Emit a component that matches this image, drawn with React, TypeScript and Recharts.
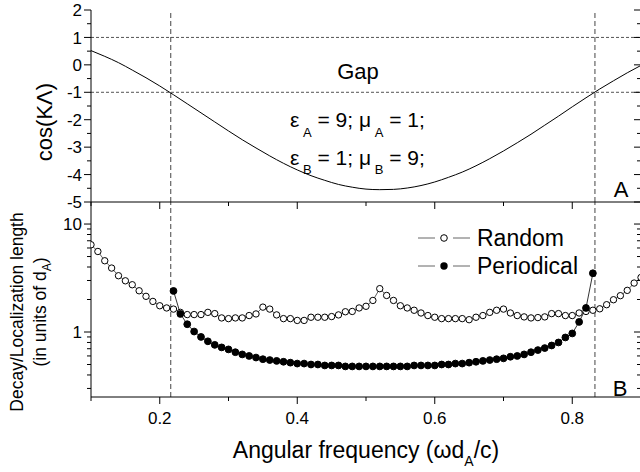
import React from "react";
import { LineChart, Line, XAxis, YAxis, ReferenceLine, Legend } from "recharts";

const FONT = "'Liberation Sans', Arial, Helvetica, sans-serif";

// top panel: cos(K Lambda) vs frequency
const curveFreq = [
  0.1, 0.12, 0.14, 0.16, 0.18, 0.2, 0.22, 0.24, 0.26, 0.28, 0.3, 0.32, 0.34, 0.36,
  0.38, 0.4, 0.42, 0.44, 0.46, 0.48, 0.5, 0.52, 0.54, 0.56, 0.58, 0.6, 0.62, 0.64,
  0.66, 0.68, 0.7, 0.72, 0.74, 0.76, 0.78, 0.8, 0.82, 0.84, 0.86, 0.88, 0.9
];
const cosKL = [
  0.52, 0.31, 0.08, -0.19, -0.47, -0.77, -1.09, -1.42, -1.75, -2.08, -2.41, -2.73, -3.03, -3.32,
  -3.59, -3.83, -4.04, -4.21, -4.36, -4.46, -4.53, -4.55, -4.54, -4.49, -4.4, -4.27, -4.1, -3.91,
  -3.68, -3.42, -3.14, -2.84, -2.53, -2.2, -1.87, -1.53, -1.2, -0.88, -0.58, -0.29, -0.02
];

// bottom panel: random stack
const randomFreq = [
  0.1, 0.11, 0.12, 0.13, 0.14, 0.15, 0.16, 0.17, 0.18, 0.19, 0.2, 0.21, 0.22, 0.23, 0.24, 0.25,
  0.26, 0.27, 0.28, 0.29, 0.3, 0.31, 0.32, 0.33, 0.34, 0.35, 0.36, 0.37, 0.38, 0.39, 0.4, 0.41,
  0.42, 0.43, 0.44, 0.45, 0.46, 0.47, 0.48, 0.49, 0.5, 0.51, 0.52, 0.53, 0.54, 0.55, 0.56, 0.57,
  0.58, 0.59, 0.6, 0.61, 0.62, 0.63, 0.64, 0.65, 0.66, 0.67, 0.68, 0.69, 0.7, 0.71, 0.72, 0.73,
  0.74, 0.75, 0.76, 0.77, 0.78, 0.79, 0.8, 0.81, 0.82, 0.83, 0.84, 0.85, 0.86, 0.87, 0.88, 0.89, 0.9
];
const randomLen = [
  6.43, 5.57, 4.57, 3.91, 3.32, 2.98, 2.74, 2.41, 2.14, 1.92, 1.75, 1.67, 1.63, 1.52, 1.45, 1.45,
  1.45, 1.52, 1.48, 1.35, 1.33, 1.35, 1.35, 1.42, 1.47, 1.7, 1.63, 1.44, 1.33, 1.33, 1.28, 1.28,
  1.37, 1.37, 1.37, 1.39, 1.44, 1.54, 1.55, 1.67, 1.73, 1.96, 2.52, 2.18, 1.96, 1.75, 1.67, 1.59,
  1.5, 1.42, 1.37, 1.33, 1.33, 1.33, 1.33, 1.3, 1.37, 1.42, 1.52, 1.59, 1.63, 1.5, 1.42, 1.38,
  1.35, 1.36, 1.38, 1.48, 1.48, 1.42, 1.42, 1.5, 1.55, 1.59, 1.64, 1.79, 1.99, 2.17, 2.43, 2.84, 3.2
];

// bottom panel: periodic stack (decay length inside the gap)
const periodicFreq = [
  0.22, 0.23, 0.24, 0.25, 0.26, 0.27, 0.28, 0.29, 0.3, 0.31, 0.32, 0.33, 0.34, 0.35, 0.36, 0.37,
  0.38, 0.39, 0.4, 0.41, 0.42, 0.43, 0.44, 0.45, 0.46, 0.47, 0.48, 0.49, 0.5, 0.51, 0.52, 0.53,
  0.54, 0.55, 0.56, 0.57, 0.58, 0.59, 0.6, 0.61, 0.62, 0.63, 0.64, 0.65, 0.66, 0.67, 0.68, 0.69,
  0.7, 0.71, 0.72, 0.73, 0.74, 0.75, 0.76, 0.77, 0.78, 0.79, 0.8, 0.81, 0.82, 0.83
];
const periodicLen = [
  2.4, 1.47, 1.18, 1.01, 0.9, 0.82, 0.76, 0.72, 0.69, 0.65, 0.62, 0.6, 0.58, 0.56, 0.55, 0.54,
  0.53, 0.52, 0.51, 0.51, 0.5, 0.5, 0.49, 0.49, 0.49, 0.48, 0.48, 0.48, 0.48, 0.48, 0.48, 0.48,
  0.48, 0.48, 0.48, 0.49, 0.49, 0.49, 0.49, 0.5, 0.5, 0.51, 0.51, 0.52, 0.53, 0.54, 0.55, 0.56,
  0.57, 0.59, 0.6, 0.62, 0.65, 0.68, 0.71, 0.75, 0.8, 0.89, 0.97, 1.24, 1.67, 3.5
];

const xTicks = [0.1, 0.2, 0.3, 0.4, 0.5, 0.6, 0.7, 0.8, 0.9];
const cosTicks = [-5, -4.5, -4, -3.5, -3, -2.5, -2, -1.5, -1, -0.5, 0, 0.5, 1, 1.5, 2];
const logTicks = [0.3, 0.4, 0.5, 0.6, 0.7, 0.8, 0.9, 1, 2, 3, 4, 5, 6, 7, 8, 9, 10];
const gapEdges = [0.216, 0.833];
const bandEdges = [1, -1];

const curveData = curveFreq.map((f, i) => ({ f, v: cosKL[i] }));
const randomData = randomFreq.map((f, i) => ({ f, v: randomLen[i] }));
const periodicData = periodicFreq.map((f, i) => ({ f, v: periodicLen[i] }));

const makeXTick = (withLabels: boolean) => (props: any) => {
  const { x, y, payload } = props;
  const major = Math.round(payload.value * 10) % 2 === 0;
  return (
    <g>
      <line x1={x} x2={x} y1={y} y2={y + (major ? 7 : 4)} stroke="#000" />
      {withLabels && major && (
        <text x={x} y={y + 27} textAnchor="middle" fontSize={17} fontFamily={FONT} fill="#000">
          {payload.value.toFixed(1)}
        </text>
      )}
    </g>
  );
};

const makeYTick = (side: "left" | "right", isMajor: (v: number) => boolean) => (props: any) => {
  const { x, y, payload } = props;
  const major = isMajor(payload.value);
  const len = major ? 7 : 4;
  if (side === "right") {
    return <line x1={x - len} x2={x} y1={y} y2={y} stroke="#000" />;
  }
  return (
    <g>
      <line x1={x - len} x2={x} y1={y} y2={y} stroke="#000" />
      {major && (
        <text x={x - 9} y={y} dy="0.36em" textAnchor="end" fontSize={17} fontFamily={FONT} fill="#000">
          {payload.value}
        </text>
      )}
    </g>
  );
};

const isInt = (v: number) => Number.isInteger(v);
const isDecade = (v: number) => v === 1 || v === 10;

const XTickLabelled = makeXTick(true);
const XTickPlain = makeXTick(false);
const CosLeftTick = makeYTick("left", isInt);
const CosRightTick = makeYTick("right", isInt);
const LogLeftTick = makeYTick("left", isDecade);
const LogRightTick = makeYTick("right", isDecade);

const renderLegend = () => (
  <svg width={190} height={56} style={{ overflow: "visible" }}>
    <g fontFamily={FONT} fontSize={23}>
      <line x1={0} x2={17} y1={13} y2={13} stroke="#666" />
      <circle cx={26} cy={13} r={3.3} fill="#fff" stroke="#000" />
      <line x1={35} x2={52} y1={13} y2={13} stroke="#666" />
      <text x={59} y={21}>Random</text>
      <line x1={0} x2={17} y1={41} y2={41} stroke="#666" />
      <circle cx={26} cy={41} r={3.7} fill="#000" />
      <line x1={35} x2={52} y1={41} y2={41} stroke="#666" />
      <text x={59} y={49}>Periodical</text>
    </g>
  </svg>
);

const axisLine = { stroke: "#000", strokeWidth: 1 };

export default function App() {
  return (
    <div
      style={{
        position: "absolute",
        left: 0,
        top: 0,
        width: 640,
        height: 472,
        overflow: "hidden",
        background: "#fff",
        fontFamily: FONT
      }}
    >
      <div style={{ position: "absolute", left: 0, top: 202 }}>
        <LineChart width={650} height={270} margin={{ top: 0, right: 0, left: 0, bottom: 0 }}>
          <XAxis
            xAxisId="b"
            dataKey="f"
            type="number"
            domain={[0.1, 0.9]}
            ticks={xTicks}
            interval={0}
            allowDataOverflow
            height={75}
            tickSize={0}
            tickMargin={0}
            tickLine={false}
            axisLine={axisLine}
            tick={XTickLabelled}
          />
          <YAxis
            yAxisId="l"
            type="number"
            scale="log"
            domain={[0.25, 16]}
            ticks={logTicks}
            interval={0}
            allowDataOverflow
            width={91}
            tickSize={0}
            tickMargin={0}
            tickLine={false}
            axisLine={axisLine}
            tick={LogLeftTick}
          />
          <YAxis
            yAxisId="r"
            orientation="right"
            type="number"
            scale="log"
            domain={[0.25, 16]}
            ticks={logTicks}
            interval={0}
            allowDataOverflow
            width={9}
            tickSize={0}
            tickMargin={0}
            tickLine={false}
            axisLine={axisLine}
            tick={LogRightTick}
          />
          {gapEdges.map((g) => (
            <ReferenceLine
              key={g}
              xAxisId="b"
              yAxisId="l"
              x={g}
              stroke="#444"
              strokeDasharray="5 3"
            />
          ))}
          <Line
            xAxisId="b"
            yAxisId="l"
            data={randomData}
            dataKey="v"
            type="linear"
            stroke="#333"
            strokeWidth={0.8}
            dot={{ r: 3.2, stroke: "#000", strokeWidth: 1, fill: "#fff" }}
            activeDot={false}
            isAnimationActive={false}
          />
          <Line
            xAxisId="b"
            yAxisId="l"
            data={periodicData}
            dataKey="v"
            type="linear"
            stroke="#000"
            strokeWidth={0.8}
            dot={{ r: 3.4, stroke: "#000", strokeWidth: 1, fill: "#000" }}
            activeDot={false}
            isAnimationActive={false}
          />
          <Legend
            layout="vertical"
            align="center"
            verticalAlign="middle"
            content={renderLegend}
            wrapperStyle={{ position: "absolute", left: 418, top: 23, width: 190, height: 56 }}
          />
        </LineChart>
      </div>

      <div style={{ position: "absolute", left: 0, top: 0 }}>
        <LineChart width={650} height={216} data={curveData} margin={{ top: 10, right: 0, left: 0, bottom: 0 }}>
          <XAxis
            xAxisId="b"
            dataKey="f"
            type="number"
            domain={[0.1, 0.9]}
            ticks={xTicks}
            interval={0}
            allowDataOverflow
            height={14}
            tickSize={0}
            tickMargin={0}
            tickLine={false}
            axisLine={axisLine}
            tick={XTickPlain}
          />
          <XAxis
            xAxisId="t"
            orientation="top"
            dataKey="f"
            type="number"
            domain={[0.1, 0.9]}
            ticks={xTicks}
            interval={0}
            allowDataOverflow
            height={0}
            tickSize={0}
            tickMargin={0}
            tickLine={false}
            axisLine={axisLine}
            tick={XTickPlain}
          />
          <YAxis
            yAxisId="l"
            type="number"
            domain={[-5, 2]}
            ticks={cosTicks}
            interval={0}
            allowDataOverflow
            width={91}
            tickSize={0}
            tickMargin={0}
            tickLine={false}
            axisLine={axisLine}
            tick={CosLeftTick}
          />
          <YAxis
            yAxisId="r"
            orientation="right"
            type="number"
            domain={[-5, 2]}
            ticks={cosTicks}
            interval={0}
            allowDataOverflow
            width={9}
            tickSize={0}
            tickMargin={0}
            tickLine={false}
            axisLine={axisLine}
            tick={CosRightTick}
          />
          {bandEdges.map((b) => (
            <ReferenceLine key={b} xAxisId="b" yAxisId="l" y={b} stroke="#555" strokeDasharray="3 2" />
          ))}
          {gapEdges.map((g) => (
            <ReferenceLine key={g} xAxisId="b" yAxisId="l" x={g} stroke="#444" strokeDasharray="5 3" />
          ))}
          <Line
            xAxisId="b"
            yAxisId="l"
            dataKey="v"
            type="monotone"
            stroke="#000"
            strokeWidth={1}
            dot={false}
            activeDot={false}
            isAnimationActive={false}
          />
        </LineChart>
      </div>

      <svg
        width={640}
        height={472}
        style={{ position: "absolute", left: 0, top: 0, pointerEvents: "none" }}
        fontFamily={FONT}
        fill="#000"
      >
        <text x={358} y={79} fontSize={22} textAnchor="middle">Gap</text>
        <text x={290} y={127} fontSize={21} style={{ whiteSpace: "pre" }}>
          ε<tspan dy={10} fontSize={13}> A</tspan>
          <tspan dy={-10}> = 9; μ</tspan>
          <tspan dy={10} fontSize={13}> A</tspan>
          <tspan dy={-10}> = 1;</tspan>
        </text>
        <text x={290} y={165} fontSize={21} style={{ whiteSpace: "pre" }}>
          ε<tspan dy={9} fontSize={13}> B</tspan>
          <tspan dy={-9}> = 1; μ</tspan>
          <tspan dy={9} fontSize={13}> B</tspan>
          <tspan dy={-9}> = 9;</tspan>
        </text>
        <text x={621} y={197} fontSize={22} textAnchor="middle">A</text>
        <text x={620} y={396} fontSize={22} textAnchor="middle">B</text>
        <text x={44} y={122} fontSize={22} textAnchor="middle" dy="0.35em" transform="rotate(-90 44 122)">
          cos(KΛ)
        </text>
        <text x={17} y={312} fontSize={17.5} textAnchor="middle" dy="0.35em" transform="rotate(-90 17 312)">
          Decay/Localization length
        </text>
        <text x={40} y={312} fontSize={17.5} textAnchor="middle" dy="0.35em" transform="rotate(-90 40 312)">
          (in units of d<tspan dy={5} fontSize={12}>A</tspan>
          <tspan dy={-5}>)</tspan>
        </text>
        <text x={366} y={458} fontSize={23} textAnchor="middle">
          Angular frequency (ωd<tspan dy={8} fontSize={14}>A</tspan>
          <tspan dy={-8}>/c)</tspan>
        </text>
      </svg>
    </div>
  );
}
